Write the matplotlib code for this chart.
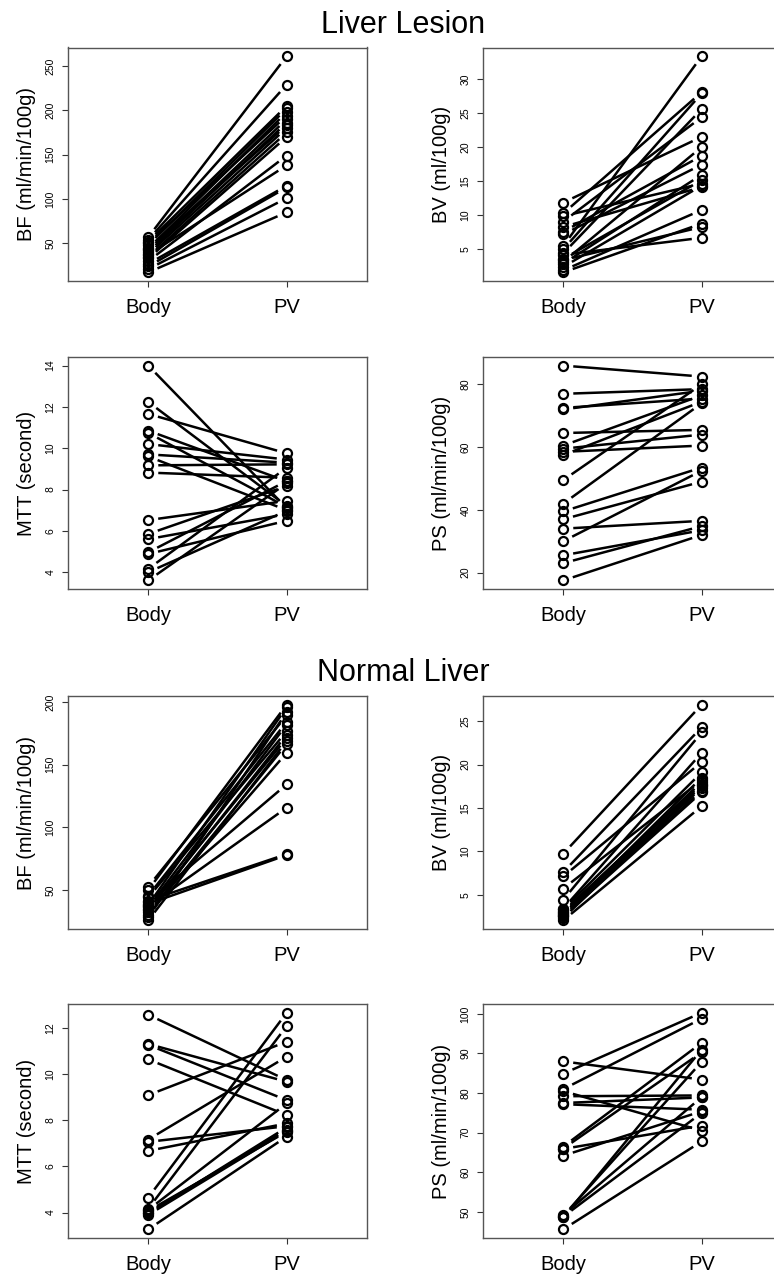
import matplotlib
matplotlib.use("Agg")
import matplotlib.pyplot as plt
import numpy as np

plt.rcParams['font.family'] = ['Liberation Sans', 'DejaVu Sans']

groups = ['Body', 'PV']

# ---- Liver lesion (18 subjects) ----
les_bf_body = [57, 54, 52, 50, 48, 45, 44, 42, 40, 38, 37, 35, 33, 30, 27, 24, 21, 17.3]
les_bf_pv = [261, 229, 205, 194, 202, 183, 198, 190, 186, 180, 138, 175, 170, 149, 115, 113, 101, 85]

les_bv_body = [11.8, 10.2, 9.8, 9.0, 8.2, 7.5, 7.1, 5.4, 4.9, 4.3, 3.5, 3.05, 2.8, 2.3, 1.8, 1.5, 3.3, 4.1]
les_bv_pv = [21.5, 28.1, 14.6, 24.4, 14.1, 18.7, 17.4, 33.4, 27.9, 25.6, 15.1, 20.0, 15.9, 14.3, 10.7, 8.7, 8.2, 6.6]

les_mtt_body = [14.0, 12.24, 11.66, 10.85, 10.74, 10.2, 9.7, 9.6, 9.17, 8.82, 6.52, 5.85, 5.6, 4.96, 4.88, 4.16, 4.0, 3.6]
les_mtt_pv = [7.1, 7.2, 9.75, 8.4, 7.15, 9.45, 9.3, 7.0, 9.22, 8.57, 7.45, 8.17, 6.81, 8.41, 6.49, 9.06, 6.97, 8.3]

les_ps_body = [86, 77, 72.5, 72, 64.5, 60.5, 59.5, 58.5, 57.5, 49.5, 42, 39.5, 37, 34, 30, 25.5, 23, 17.5]
les_ps_pv = [82.5, 78.5, 75.5, 78.0, 65.5, 76.5, 64, 60.5, 74.5, 80, 74, 53.5, 49, 36.5, 52.5, 33.5, 34.8, 32]

# ---- Normal liver (16 subjects) ----
nor_bf_body = [52.7, 50.0, 45.5, 44.0, 41.5, 40.5, 38.9, 38.0, 37.0, 36.2, 35.0, 33.6, 32.0, 30.0, 28.0, 25.7]
nor_bf_pv = [189.4, 197.9, 184.1, 176.7, 78.6, 134.3, 77.8, 195.8, 115.7, 182.0, 171.4, 174.0, 159.5, 166.6, 192.0, 169.0]

nor_bv_body = [9.72, 7.6, 7.1, 5.7, 4.42, 3.4, 3.3, 3.1, 3.0, 2.9, 2.8, 2.7, 2.6, 2.5, 2.3, 2.04]
nor_bv_pv = [26.9, 24.3, 20.3, 18.2, 23.7, 21.35, 19.1, 17.8, 18.0, 17.3, 17.5, 18.5, 17.0, 16.8, 17.6, 15.2]

nor_mtt_body = [12.59, 11.32, 11.28, 10.65, 9.10, 7.17, 7.07, 6.68, 4.65, 4.17, 4.12, 4.07, 4.0, 3.96, 3.9, 3.27]
nor_mtt_pv = [9.75, 9.68, 8.88, 8.23, 11.42, 10.77, 7.75, 7.87, 12.68, 12.10, 8.74, 7.51, 7.6, 7.7, 7.55, 7.3]

nor_ps_body = [88.0, 84.9, 81.0, 80.5, 79.2, 77.5, 77.2, 66.5, 66.0, 65.9, 64.2, 49.0, 48.6, 49.2, 48.8, 45.6]
nor_ps_pv = [83.4, 100.3, 98.8, 70.5, 79.4, 78.9, 75.8, 92.7, 90.3, 71.8, 75.4, 87.9, 91.0, 79.0, 75.0, 67.8]

bf_label = 'BF (ml/min/100g)'
bv_label = 'BV (ml/100g)'
mtt_label = 'MTT (second)'
ps_label = 'PS (ml/min/100g)'

panels = [
  (les_bf_body, les_bf_pv, bf_label, [50, 100, 150, 200, 250]),
  (les_bv_body, les_bv_pv, bv_label, [5, 10, 15, 20, 25, 30]),
  (les_mtt_body, les_mtt_pv, mtt_label, [4, 6, 8, 10, 12, 14]),
  (les_ps_body, les_ps_pv, ps_label, [20, 40, 60, 80]),
  (nor_bf_body, nor_bf_pv, bf_label, [50, 100, 150, 200]),
  (nor_bv_body, nor_bv_pv, bv_label, [5, 10, 15, 20, 25]),
  (nor_mtt_body, nor_mtt_pv, mtt_label, [4, 6, 8, 10, 12]),
  (nor_ps_body, nor_ps_pv, ps_label, [50, 60, 70, 80, 90, 100]),
]

W, H = 774, 1279
fig = plt.figure(figsize=(W/100, H/100), dpi=100)

# pixel layout of the boxes (top, bottom)
rows = [(47.5, 281), (357, 589), (696, 929), (1004, 1238)]
cols = [68, 483]
aw = 299

gap = 10  # px gap between line ends and the circles

for k, (body, pv, ylab, yt) in enumerate(panels):
  r, c = divmod(k, 2)
  top, bot = rows[r]
  ax = fig.add_axes([cols[c]/W, 1 - bot/H, aw/W, (bot - top)/H])
  body = np.array(body, float)
  pv = np.array(pv, float)
  lo = min(body.min(), pv.min())
  hi = max(body.max(), pv.max())
  ext = 0.04*(hi - lo)
  ax.set_xlim(0.42, 2.58)
  ax.set_ylim(lo - ext, hi + ext)

  for y0, y1 in zip(body, pv):
    p0 = ax.transData.transform((1, y0))
    p1 = ax.transData.transform((2, y1))
    d = p1 - p0
    L = np.hypot(*d)
    q0 = p0 + d/L*gap
    q1 = p1 - d/L*gap
    a = ax.transData.inverted().transform(q0)
    b = ax.transData.inverted().transform(q1)
    ax.plot([a[0], b[0]], [a[1], b[1]], color='black', lw=1.8, solid_capstyle='butt')
  ax.plot(np.ones(len(body)), body, 'o', mfc='none', mec='black', ms=6.5, mew=1.6)
  ax.plot(np.full(len(pv), 2), pv, 'o', mfc='none', mec='black', ms=6.5, mew=1.6)

  ax.set_xticks([1, 2])
  ax.set_xticklabels(groups, fontsize=14.5)
  ax.set_yticks(yt)
  ax.set_yticklabels([str(v) for v in yt], fontsize=7.5, rotation=90, va='center')
  ax.tick_params(axis='x', length=4, width=0.8, pad=8, colors='#333333', labelcolor='black')
  ax.tick_params(axis='y', length=4, width=0.8, pad=5, colors='#333333', labelcolor='black')
  ax.set_ylabel(ylab, fontsize=14.5, labelpad=7)
  for s in ax.spines.values():
    s.set_color('#555555')
    s.set_linewidth(1.0)

fig.text(403/W, 1 - 25/H, 'Liver Lesion', ha='center', va='center', fontsize=22)
fig.text(403/W, 1 - 673/H, 'Normal Liver', ha='center', va='center', fontsize=22)

fig.savefig('out.png', dpi=100)
